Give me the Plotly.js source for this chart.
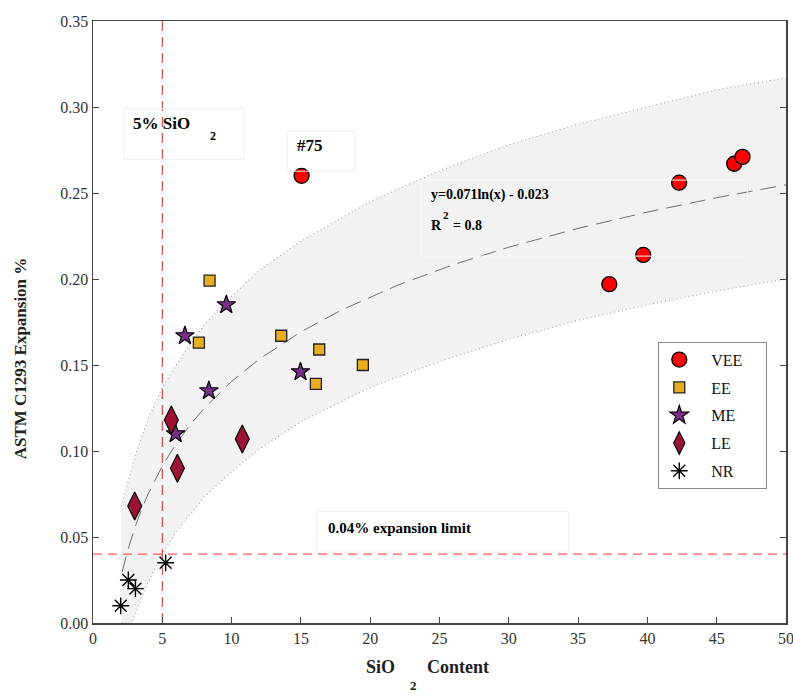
<!DOCTYPE html>
<html>
<head>
<meta charset="utf-8">
<script src="https://cdn.plot.ly/plotly-3.0.1.min.js"></script>
<style>html,body{margin:0;padding:0;background:#fff;}#chart{width:793px;height:696px;}</style>
</head>
<body>
<div id="chart"></div>
<script>
// ---- data ----
const veeX = [15.05, 37.25, 39.70, 42.29, 46.26, 46.86];
const veeY = [0.260, 0.197, 0.214, 0.256, 0.267, 0.271];

const eeX = [8.41, 7.64, 13.58, 16.32, 19.47, 16.08];
const eeY = [0.199, 0.163, 0.167, 0.159, 0.150, 0.139];

const meX = [9.62, 6.63, 14.97, 8.36, 5.96];
const meY = [0.185, 0.167, 0.146, 0.135, 0.110];

const leX = [5.65, 10.77, 6.09, 3.01];
const leY = [0.118, 0.107, 0.090, 0.068];

const nrX = [5.24, 2.55, 3.06, 2.00];
const nrY = [0.035, 0.025, 0.020, 0.010];

// confidence band
const bandX     = [2.05, 2.5, 2.75, 3, 3.5, 4, 5, 6, 7, 8, 10, 12, 15, 20, 25, 30, 35, 40, 45, 50];
const bandUpper = [0.068, 0.082, 0.089, 0.096, 0.108, 0.119, 0.137, 0.150, 0.162, 0.173, 0.190, 0.205, 0.222, 0.245, 0.263, 0.278, 0.290, 0.300, 0.310, 0.317];
const bandLower = [0.000, 0.000, 0.000, 0.004, 0.015, 0.024, 0.040, 0.053, 0.063, 0.073, 0.088, 0.101, 0.117, 0.137, 0.152, 0.165, 0.176, 0.185, 0.193, 0.200];

// regression shown on the chart: y = 0.071 ln(x) - 0.023
const trendA = 0.071, trendB = -0.023;
const trendX = [2.1, 2.5, 3, 3.5, 4, 5, 6, 7, 8, 10, 12, 15, 18, 22, 26, 30, 35, 40, 45, 50];
const trendY = trendX.map(x => trendA * Math.log(x) + trendB);

const silicaLimit = 5;       // 5% SiO2
const expansionLimit = 0.04; // 0.04% expansion limit

const xTicks = [0, 5, 10, 15, 20, 25, 30, 35, 40, 45, 50];
const yTicks = [0, 0.05, 0.10, 0.15, 0.20, 0.25, 0.30, 0.35];

const serif = '"Liberation Serif", "Times New Roman", serif';
const lead = '\u00a0\u00a0\u00a0';
const tail = '<span style="color:rgba(0,0,0,0)">\u00a0M</span>';

const traces = [
  {x: bandX, y: bandLower, mode: 'lines', line: {color: '#a8a8a8', width: 1.2, dash: '1px,3px'}, showlegend: false, hoverinfo: 'skip'},
  {x: bandX, y: bandUpper, mode: 'lines', fill: 'tonexty', fillcolor: '#f2f2f2', line: {color: '#a8a8a8', width: 1.2, dash: '1px,3px'}, showlegend: false, hoverinfo: 'skip'},
  {x: trendX, y: trendY, mode: 'lines', line: {color: '#707070', width: 1, dash: '16px,8px'}, showlegend: false, hoverinfo: 'skip'},
  {x: [silicaLimit, silicaLimit], y: [0, 0.35], mode: 'lines', line: {color: '#c83030', width: 1, dash: '10px,6px'}, showlegend: false, hoverinfo: 'skip'},
  {x: [0, 50], y: [expansionLimit, expansionLimit], mode: 'lines', line: {color: '#ff5a5a', width: 1.2, dash: '9px,6px'}, showlegend: false, hoverinfo: 'skip'},
  {x: veeX, y: veeY, name: lead + 'VEE' + tail, legendgroup: 'a', mode: 'markers', marker: {symbol: 'circle', size: 15, color: '#ff0000', line: {color: '#000', width: 1.3}}},
  {x: eeX, y: eeY, name: lead + 'EE', legendgroup: 'b', mode: 'markers', marker: {symbol: 'square', size: 11, color: '#e8ae22', line: {color: '#222', width: 1.3}}},
  {x: meX, y: meY, name: lead + 'ME', legendgroup: 'c', mode: 'markers', marker: {symbol: 'star', size: 14, color: '#7b2d8b', line: {color: '#000', width: 1.2}}},
  {x: leX, y: leY, name: lead + 'LE', legendgroup: 'd', mode: 'markers', marker: {symbol: 'diamond-tall', size: 20, color: '#9c1334', line: {color: '#000', width: 1.2}}},
  {x: nrX, y: nrY, name: lead + 'NR', legendgroup: 'e', mode: 'markers', marker: {symbol: 'asterisk-open', size: 14, color: '#000', line: {color: '#000', width: 1.4}}}
];

const boxLine = {color: '#efefef', width: 1};
const layout = {
  width: 793, height: 696,
  margin: {l: 93, r: 7, t: 21, b: 73, autoexpand: false},
  paper_bgcolor: '#fff', plot_bgcolor: '#fff',
  font: {family: serif, size: 16, color: '#333'},
  showlegend: true,
  legend: {x: 0.8157, y: 0.4673, xanchor: 'left', yanchor: 'top', bgcolor: '#fff', bordercolor: '#888', borderwidth: 1,
           font: {family: serif, size: 16, color: '#111'}, tracegroupgap: 4, itemsizing: 'trace'},
  xaxis: {range: [0, 50], tickvals: xTicks, ticktext: xTicks.map(String), ticks: 'inside', ticklen: 6, tickcolor: '#444',
          ticklabeloverflow: 'allow', automargin: false,
          showline: true, linecolor: '#444', linewidth: 1.5, mirror: true, showgrid: false, zeroline: false,
          tickfont: {family: serif, size: 16, color: '#333'}},
  yaxis: {range: [0, 0.35], tickvals: yTicks, ticktext: yTicks.map(v => v.toFixed(2)), ticks: 'inside', ticklen: 6, tickcolor: '#444',
          automargin: false,
          showline: true, linecolor: '#444', linewidth: 1.5, mirror: 'ticks', showgrid: false, zeroline: false,
          tickfont: {family: serif, size: 16, color: '#333'}},
  shapes: [
    {type: 'rect', xref: 'x', yref: 'y', x0: 2.24, x1: 10.89, y0: 0.2695, y1: 0.2991, line: boxLine},
    {type: 'rect', xref: 'x', yref: 'y', x0: 14.02, x1: 18.92, y0: 0.2627, y1: 0.2861, line: boxLine},
    {type: 'rect', xref: 'x', yref: 'y', x0: 23.68, x1: 47.22, y0: 0.2133, y1: 0.2575, line: {color: '#f8f8f8', width: 1}},
    {type: 'rect', xref: 'x', yref: 'y', x0: 16.15, x1: 34.32, y0: 0.0412, y1: 0.0648, line: boxLine}
  ],
  annotations: [
    {text: '<b>5% SiO</b>', x: 2.77, y: 0.2906, xref: 'x', yref: 'y', xanchor: 'left', yanchor: 'middle', showarrow: false, font: {family: serif, size: 17, color: '#000'}},
    {text: '<b>2</b>', x: 8.65, y: 0.2832, xref: 'x', yref: 'y', xanchor: 'center', yanchor: 'middle', showarrow: false, font: {family: serif, size: 12, color: '#000'}},
    {text: '<b>#75</b>', x: 14.59, y: 0.2778, xref: 'x', yref: 'y', xanchor: 'left', yanchor: 'middle', showarrow: false, font: {family: serif, size: 17, color: '#000'}},
    {text: '<b>y=0.071ln(x) - 0.023</b>', x: 24.23, y: 0.2488, xref: 'x', yref: 'y', xanchor: 'left', yanchor: 'middle', showarrow: false, font: {family: serif, size: 14, color: '#000'}},
    {text: '<b>R</b>', x: 24.23, y: 0.2313, xref: 'x', yref: 'y', xanchor: 'left', yanchor: 'middle', showarrow: false, font: {family: serif, size: 14, color: '#000'}},
    {text: '<b>2</b>', x: 25.48, y: 0.2372, xref: 'x', yref: 'y', xanchor: 'center', yanchor: 'middle', showarrow: false, font: {family: serif, size: 11, color: '#000'}},
    {text: '<b>= 0.8</b>', x: 25.85, y: 0.2313, xref: 'x', yref: 'y', xanchor: 'left', yanchor: 'middle', showarrow: false, font: {family: serif, size: 14, color: '#000'}},
    {text: '<b>0.04% expansion limit</b>', x: 16.8, y: 0.0552, xref: 'x', yref: 'y', xanchor: 'left', yanchor: 'middle', showarrow: false, font: {family: serif, size: 15, color: '#000'}},
    {text: '<b>SiO</b>', x: 0.4154, y: -0.0725, xref: 'paper', yref: 'paper', xanchor: 'center', yanchor: 'middle', showarrow: false, font: {family: serif, size: 18, color: '#222'}},
    {text: '<b>2</b>', x: 0.4625, y: -0.103, xref: 'paper', yref: 'paper', xanchor: 'center', yanchor: 'middle', showarrow: false, font: {family: serif, size: 13, color: '#222'}},
    {text: '<b>Content</b>', x: 0.5266, y: -0.0725, xref: 'paper', yref: 'paper', xanchor: 'center', yanchor: 'middle', showarrow: false, font: {family: serif, size: 18, color: '#222'}},
    {text: '<b>ASTM C1293 Expansion %</b>', x: -0.105, y: 0.44, xref: 'paper', yref: 'paper', xanchor: 'center', yanchor: 'middle', textangle: -90, showarrow: false, font: {family: serif, size: 17, color: '#222'}}
  ]
};

Plotly.newPlot('chart', traces, layout, {displayModeBar: false, staticPlot: true});
</script>
</body>
</html>
